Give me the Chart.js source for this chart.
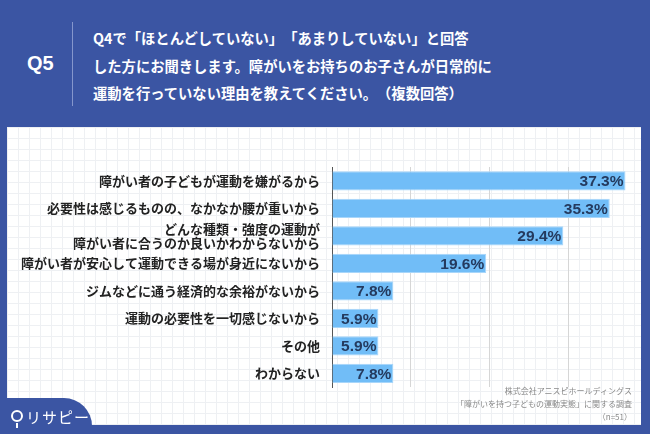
<!DOCTYPE html>
<html lang="ja">
<head>
<meta charset="utf-8">
<script src="https://cdn.jsdelivr.net/npm/chart.js@4.4.1/dist/chart.umd.min.js"></script>
<style>
  body { margin: 0; }
  #frame {
    position: relative; width: 650px; height: 434px; background: #3b55a3; overflow: hidden;
    font-family: "Noto Sans CJK JP", "Noto Sans", sans-serif;
    text-spacing-trim: space-all;
  }
  #q {
    position: absolute; left: 27px; top: 52px; color: #fff;
    font: bold 20px "Liberation Sans", Arial, sans-serif;
  }
  #divider { position: absolute; left: 72px; top: 22px; width: 1px; height: 84px; background: #8596cc; }
  #title {
    position: absolute; left: 93px; top: 24px; color: #fff; font-weight: bold;
    font-size: 14.3px; line-height: 27.5px; white-space: nowrap;
  }
  #panel {
    position: absolute; left: 7px; top: 127px; width: 634px; height: 298px; background-color: #fff;
    background-image:
      repeating-linear-gradient(0deg, #eef0f3 0 1px, transparent 1px 11px),
      repeating-linear-gradient(90deg, #eef0f3 0 1px, transparent 1px 11px);
  }
  #chart { position: absolute; left: 0; top: 0; }
  #source {
    position: absolute; right: 9px; top: 257px; text-align: right; color: #8a8a8a;
    font-size: 8px; line-height: 13px;
  }
  #logo {
    position: absolute; left: 0; top: 398px; width: 92px; height: 40px; background: #3b55a3;
    border-top-right-radius: 28px;
  }
  #logo .pin {
    position: absolute; left: 11px; top: 12px; width: 8px; height: 8px; border: 2px solid #fff; border-radius: 50%;
  }
  #logo .pin:after {
    content: ""; position: absolute; left: 3px; top: 11px; width: 2px; height: 5px; background: #fff;
  }
  #logo .txt { position: absolute; left: 26px; top: 8px; color: #fff; font-size: 15px; letter-spacing: 1px; }
</style>
</head>
<body>
<div id="frame">
  <div id="q">Q5</div>
  <div id="divider"></div>
  <div id="title">Q4で「ほとんどしていない」「あまりしていない」と回答<br>した方にお聞きします。障がいをお持ちのお子さんが日常的に<br>運動を行っていない理由を教えてください。（複数回答）</div>
  <div id="panel">
    <canvas id="chart" width="635" height="298"></canvas>
    <div id="source">株式会社アニスピホールディングス<br>「障がいを持つ子どもの運動実態」に関する調査<br>（n=51）</div>
  </div>
  <div id="logo"><div class="pin"></div><div class="txt">リサピー</div></div>
</div>
<script>
const categories = [
  '障がい者の子どもが運動を嫌がるから',
  '必要性は感じるものの、なかなか腰が重いから',
  ['どんな種類・強度の運動が', '障がい者に合うのか良いかわからないから'],
  '障がい者が安心して運動できる場が身近にないから',
  'ジムなどに通う経済的な余裕がないから',
  '運動の必要性を一切感じないから',
  'その他',
  'わからない'
];
const values = [37.3, 35.3, 29.4, 19.6, 7.8, 5.9, 5.9, 7.8];

// value labels drawn at the end of each bar
const barLabels = {
  id: 'barLabels',
  afterDatasetsDraw(chart) {
    const ctx = chart.ctx;
    const meta = chart.getDatasetMeta(0);
    ctx.save();
    ctx.font = 'bold 15.5px "Liberation Sans", Arial, sans-serif';
    ctx.fillStyle = '#243a5e';
    ctx.textAlign = 'right';
    ctx.textBaseline = 'middle';
    meta.data.forEach((bar, i) => {
      ctx.fillText(values[i].toFixed(1) + '%', bar.x - 2, bar.y + 1);
    });
    ctx.restore();
  }
};

new Chart(document.getElementById('chart'), {
  type: 'bar',
  data: {
    labels: categories,
    datasets: [{
      data: values,
      backgroundColor: '#71bdf7',
      borderColor: '#a8d6fa',
      borderWidth: 1,
      categoryPercentage: 0.7,
      barPercentage: 1
    }]
  },
  options: {
    indexAxis: 'y',
    responsive: false,
    animation: false,
    layout: { padding: { top: 40, bottom: 38, right: 0 } },
    plugins: { legend: { display: false }, tooltip: { enabled: false } },
    scales: {
      x: {
        min: 0,
        max: 39.4,
        ticks: { display: false, stepSize: 10 },
        afterBuildTicks(scale) {
          scale.ticks = scale.ticks.filter(t => t.value % 10 === 0);
        },
        grid: { color: '#d6d6d6', drawTicks: false },
        border: { display: false }
      },
      y: {
        afterFit(scale) { scale.width = 325; },
        ticks: {
          autoSkip: false,
          padding: 12,
          color: '#222',
          font: { family: '"Noto Sans CJK JP", sans-serif', size: 13, weight: 'bold', lineHeight: 1.05 }
        },
        grid: { display: false, drawTicks: false },
        border: { display: true, color: '#555', width: 1 }
      }
    }
  },
  plugins: [barLabels]
});
</script>
</body>
</html>
